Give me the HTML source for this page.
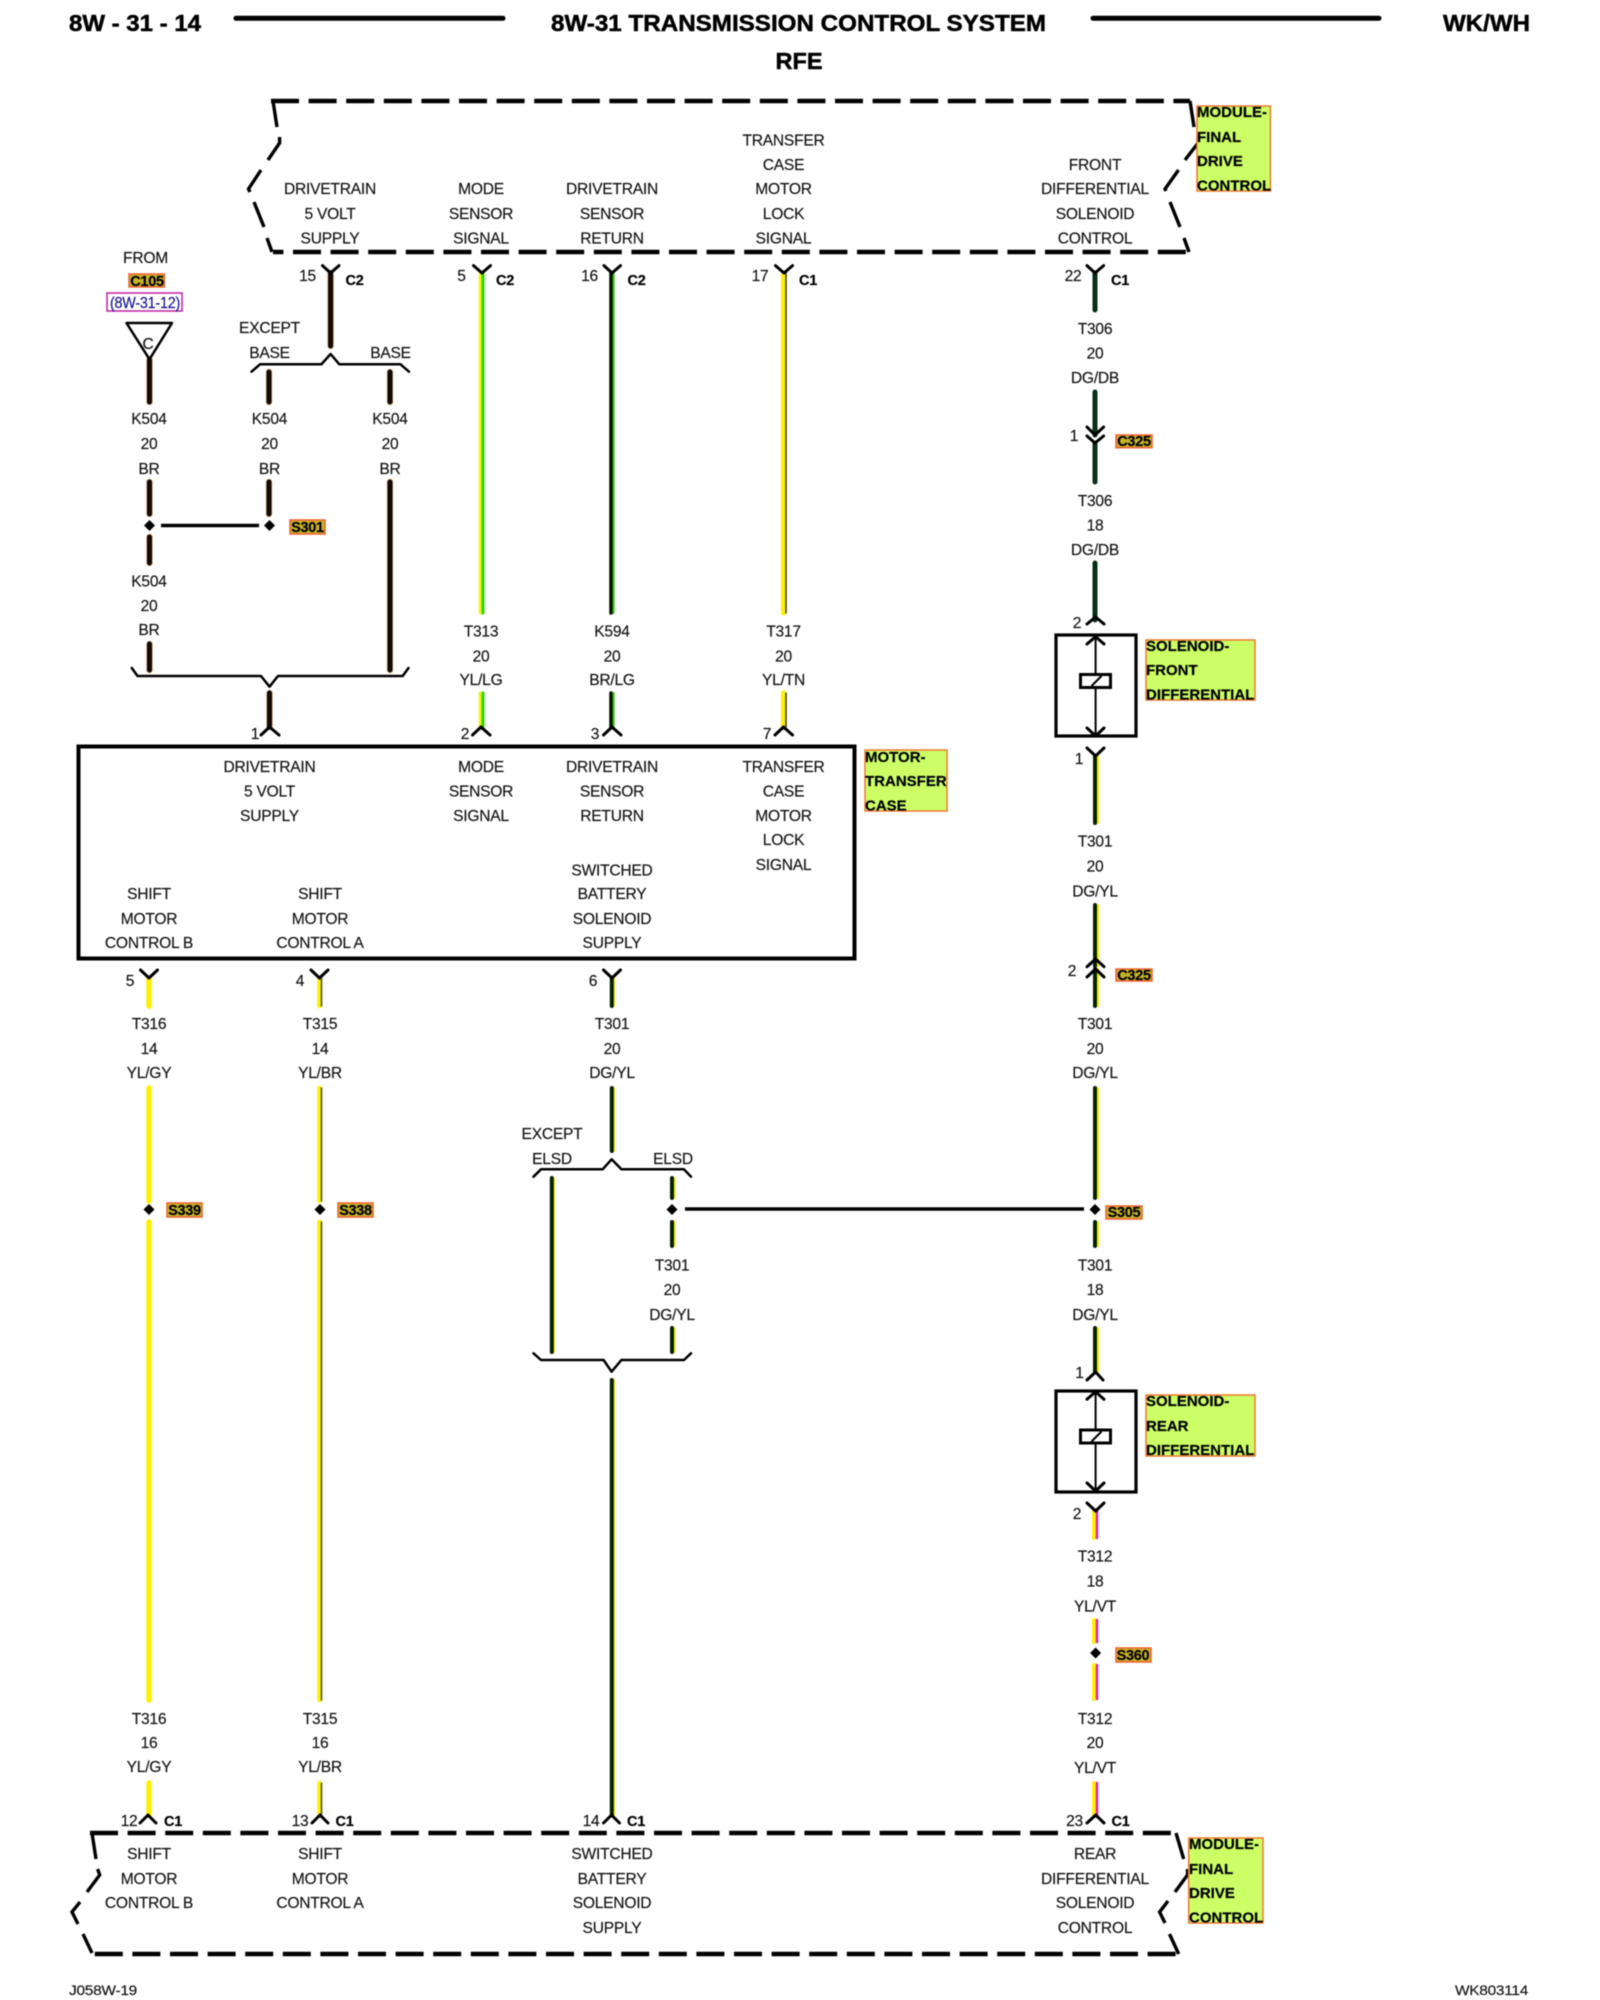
<!DOCTYPE html>
<html><head><meta charset="utf-8"><style>
html,body{margin:0;padding:0;background:#fff}
svg{display:block;filter:blur(.45px)}
text{font-family:"Liberation Sans",sans-serif;font-size:15.6px;fill:#111;text-anchor:middle;letter-spacing:-.25px;stroke:#111;stroke-width:.15px}
.b{font-weight:bold;font-size:23.5px;fill:#000;letter-spacing:0;stroke:#000;stroke-width:.5px}
.l{font-weight:bold;font-size:15px;text-anchor:start;fill:#000;letter-spacing:0;stroke:#000;stroke-width:.2px}
.t{font-weight:bold;font-size:14.5px;fill:#000;letter-spacing:-.3px;stroke:#000;stroke-width:.2px}
.g{fill:none;stroke:#000;stroke-width:3;stroke-linecap:round;stroke-linejoin:round}
.d{fill:none;stroke:#000;stroke-width:3.4;stroke-linejoin:miter}
.w{fill:none;stroke-linecap:round}
</style></head><body>
<svg xmlns="http://www.w3.org/2000/svg" width="1600" height="2000" viewBox="0 0 1600 2000">
<rect width="1600" height="2000" fill="#fff"/>

<!-- header -->
<path d="M236 18.3H503M1093 18.3H1379" stroke="#000" stroke-width="5" stroke-linecap="round"/>
<text class="b" x="69" y="31" style="text-anchor:start" textLength="132" lengthAdjust="spacingAndGlyphs">8W - 31 - 14</text>
<text class="b" x="798.5" y="31" textLength="495" lengthAdjust="spacingAndGlyphs">8W-31 TRANSMISSION CONTROL SYSTEM</text>
<text class="b" x="799" y="69">RFE</text>
<text class="b" x="1486.5" y="31" textLength="87" lengthAdjust="spacingAndGlyphs">WK/WH</text>

<!-- top module dashed outline -->
<path d="M271 101H1190" stroke="#000" stroke-width="4.5" stroke-dasharray="28 9.6" fill="none"/>
<path d="M273 252H1189" stroke="#000" stroke-width="4.5" stroke-dasharray="28 9.6" stroke-dashoffset="17.6" fill="none"/>
<path class="d" d="M273 101L277 127M279.6 137V143L268 160M261 170L248.5 189L250 192M254 202L264 227M267 238L272 252"/>
<path class="d" d="M1190 101L1194 127M1198 137V143L1185 160M1178.5 170L1165 189L1166 191M1170 202L1180 227M1184 238L1189 252"/>

<!-- bottom module dashed outline -->
<path d="M90 1833H1176" stroke="#000" stroke-width="4.5" stroke-dasharray="28 9.6" fill="none"/>
<path d="M92 1954H1179" stroke="#000" stroke-width="4.5" stroke-dasharray="28 9.6" stroke-dashoffset="34.8" fill="none"/>
<path class="d" d="M92 1833L96 1859M97.6 1869L99.7 1875L87 1892M80 1902L72 1912L78 1924M83 1934L92 1953"/>
<path class="d" d="M1176 1833L1183.7 1859M1187.5 1869V1875L1175 1892M1168 1901L1159.6 1912L1165 1923M1169.5 1934L1178.7 1954"/>

<!-- motor box -->
<rect x="78.5" y="746.5" width="776" height="212" fill="none" stroke="#000" stroke-width="4"/>

<!-- solenoid boxes -->
<g fill="none" stroke="#000">
<rect x="1056" y="635" width="80" height="101" stroke-width="3.2"/>
<rect x="1056" y="1391" width="80" height="101" stroke-width="3.2"/>
<path d="M1095.6 636V736M1095.6 1392V1492" stroke-width="2"/>
</g>
<rect x="1080.5" y="674.5" width="30" height="13" fill="#fff" stroke="#000" stroke-width="3"/>
<path d="M1091.5 686L1101.5 676" stroke="#000" stroke-width="2"/>
<rect x="1080.5" y="1430" width="30" height="13" fill="#fff" stroke="#000" stroke-width="3"/>
<path d="M1091.5 1441.5L1101.5 1431.5" stroke="#000" stroke-width="2"/>

<!-- wires: brown -->
<path class="w" stroke="#b06010" stroke-width="6.5" opacity=".5" d="M330.6 273V346M149.5 360V402M269 372V402M390 372V402M149.5 482V514M149.5 537V563M149.5 644V670M269 482V514M390 482V670M269.5 693V727"/>
<path class="w" stroke="#140a02" stroke-width="5" d="M330.6 273V346M149.5 360V402M269 372V402M390 372V402M149.5 482V514M149.5 537V563M149.5 644V670M269 482V514M390 482V670M269.5 693V727"/>

<!-- YL/LG -->
<path class="w" stroke="#f2f200" stroke-width="3" d="M480.3 273V613M480.3 693V727"/>
<path class="w" stroke="#28d800" stroke-width="3" d="M483 273V613M483 693V727"/>
<!-- BR/LG -->
<path class="w" stroke="#0a0f02" stroke-width="3.5" d="M611 273V613M611 693V727"/>
<path class="w" stroke="#20c000" stroke-width="2" d="M613.5 273V613M613.5 693V727"/>
<!-- YL/TN -->
<path class="w" stroke="#fff000" stroke-width="5" d="M783.5 273V613M783.5 693V727"/>
<path class="w" stroke="#3a3a00" stroke-width="1.5" d="M786 273V613M786 693V727"/>
<!-- YL/GY, YL/BR -->
<path class="w" stroke="#fff000" stroke-width="5.5" d="M149 978V1006M149 1088V1201M149 1222V1700M149 1783V1815"/>
<path class="w" stroke="#fff000" stroke-width="4.5" d="M319.5 978V1006M319.5 1088V1201M319.5 1222V1700M319.5 1783V1815"/>
<path class="w" stroke="#4a4a00" stroke-width="1.5" d="M321.5 978V1006M321.5 1088V1201M321.5 1222V1700M321.5 1783V1815"/>
<!-- DG/DB -->
<path class="w" stroke="#07301a" stroke-width="5" d="M1095 273V310M1095 392V435M1095 443V482M1095 563V620"/>
<!-- DG/YL -->
<path class="w" stroke="#f2f200" stroke-width="2" d="M614 978V1006M614 1088V1151M614 1380V1815M554 1178V1352M674.5 1178V1198M674.5 1222V1246M674.5 1328V1352M1098 756V823M1098 905V966M1098 969V1006M1098 1088V1198M1098 1222V1246M1098 1328V1372"/>
<path class="w" stroke="#062206" stroke-width="4" d="M611.8 978V1006M611.8 1088V1151M611.8 1380V1815M551.8 1178V1352M672 1178V1198M672 1222V1246M672 1328V1352M1095 756V823M1095 905V966M1095 969V1006M1095 1088V1198M1095 1222V1246M1095 1328V1372"/>
<!-- YL/VT -->
<path class="w" stroke="#fff000" stroke-width="4" d="M1094 1511V1538M1094 1620V1642M1094 1665V1699M1094 1783V1815"/>
<path class="w" stroke="#e020b0" stroke-width="2.5" d="M1097 1511V1538M1097 1620V1642M1097 1665V1699M1097 1783V1815"/>

<!-- horizontal splice runs -->
<path d="M161 525.5H259M685 1209H1084" stroke="#000" stroke-width="3.5"/>

<!-- connectors -->
<path class="g" d="M322.5 265.6L330.6 273L339 265.6M473.5 265.6L482 273L490.5 265.6M604 265.6L612 273L620.5 265.6M775.5 265.6L784 273L792.5 265.6M1087 265.6L1095 273L1103.6 265.6"/>
<path class="g" d="M1087 427L1095 435L1103.6 427M1087 436L1095 443L1103.6 436M1087 624L1095.6 617L1104 624M1087 644L1095.6 636.7L1104 644M1087 728L1095.6 736L1104 728M1087 748L1095.6 756L1104 748M1087 966.7L1095.6 959L1104 966.7M1087 977L1095.6 969L1104 977M1087 1380L1095.6 1372L1103 1380M1087 1399.3L1095.6 1391.7L1104 1399.3M1087 1483L1095.6 1491L1104 1483M1087 1503L1095.6 1511L1104 1503"/>
<path class="g" d="M261 735L269.5 727L279 735M472.5 735L481 727L490 735M603.5 735L612 727L621 735M775 735L783.5 727L792.5 735"/>
<path class="g" d="M140.5 970L149 978L157.5 970M311 970L319.5 978L328 970M603.5 970L612 978L620.5 970"/>
<path class="g" d="M140 1823L148 1815L156 1823M312 1823L320 1815L328 1823M603.5 1823L611.5 1815L619.5 1823M1087 1823L1095.7 1815L1104 1823"/>

<!-- braces -->
<path class="g" style="stroke-width:2.5" d="M251.5 371.7L260 364.3H321.4L330.6 354L339.3 364.3H400.5L409 371.7"/>
<path class="g" style="stroke-width:2.5" d="M131.8 668L137.5 676H261L269.5 686.7L278 676H402.7L408.5 668"/>
<path class="g" style="stroke-width:2.5" d="M533.5 1176.7L541 1169.3H602.7L611.6 1159.3L621.4 1169.3H684L691 1176.7"/>
<path class="g" style="stroke-width:2.5" d="M533.5 1353.3L541 1360H603.6L611.6 1371.7L621.4 1360H684L691 1353.3"/>

<!-- triangle -->
<path d="M126.5 323H172L149.5 359.3Z" fill="#fff" stroke="#000" stroke-width="2.5" stroke-linejoin="round"/>
<text x="148" y="349">C</text>

<!-- splice diamonds -->
<g fill="#000">
<path d="M149.5 520l5.5 5.5-5.5 5.5-5.5-5.5z"/>
<path d="M269.5 520l5.5 5.5-5.5 5.5-5.5-5.5z"/>
<path d="M149 1204l5.5 5.5-5.5 5.5-5.5-5.5z"/>
<path d="M320 1204l5.5 5.5-5.5 5.5-5.5-5.5z"/>
<path d="M672 1204l5.5 5.5-5.5 5.5-5.5-5.5z"/>
<path d="M1095 1204l5.5 5.5-5.5 5.5-5.5-5.5z"/>
<path d="M1095.6 1647.5l5.5 5.5-5.5 5.5-5.5-5.5z"/>
</g>

<!-- highlighted label boxes -->
<g fill="#ccff66" stroke="#f07830" stroke-width="1.5">
<rect x="1197" y="106" width="73.4" height="85"/>
<rect x="865" y="750" width="82" height="61"/>
<rect x="1146" y="640" width="109" height="60"/>
<rect x="1146" y="1395" width="109" height="61"/>
<rect x="1188.7" y="1838" width="74.3" height="85"/>
</g>
<g fill="#c8b428" stroke="#f06030" stroke-width="1.5">
<rect x="129" y="274" width="35.3" height="13"/>
<rect x="290" y="520" width="35" height="14"/>
<rect x="167" y="1203" width="35" height="14"/>
<rect x="338" y="1203" width="35" height="14"/>
<rect x="1106" y="1206" width="36" height="13"/>
<rect x="1116" y="435" width="36" height="12.7"/>
<rect x="1116" y="969" width="36" height="12"/>
<rect x="1116" y="1648" width="35" height="14"/>
</g>
<rect x="107" y="293" width="75" height="18" fill="#fff" stroke="#c020a0" stroke-width="1.5"/>

<text class="l" x="1197" y="117">MODULE-</text><text class="l" x="1197" y="142">FINAL</text><text class="l" x="1197" y="166">DRIVE</text><text class="l" x="1197" y="190.5">CONTROL</text>
<text class="l" x="865" y="762">MOTOR-</text><text class="l" x="865" y="786">TRANSFER</text><text class="l" x="865" y="810.5">CASE</text>
<text class="l" x="1146" y="651">SOLENOID-</text><text class="l" x="1146" y="675">FRONT</text><text class="l" x="1146" y="699.5">DIFFERENTIAL</text>
<text class="l" x="1146" y="1406">SOLENOID-</text><text class="l" x="1146" y="1431">REAR</text><text class="l" x="1146" y="1455">DIFFERENTIAL</text>
<text class="l" x="1189" y="1849">MODULE-</text><text class="l" x="1189" y="1874">FINAL</text><text class="l" x="1189" y="1898">DRIVE</text><text class="l" x="1189" y="1922.5">CONTROL</text>

<text class="t" x="147" y="286">C105</text>
<text class="t" x="307.5" y="532">S301</text>
<text class="t" x="184.5" y="1215">S339</text>
<text class="t" x="355.5" y="1215">S338</text>
<text class="t" x="1124" y="1217">S305</text>
<text class="t" x="1134" y="446">C325</text>
<text class="t" x="1134" y="980">C325</text>
<text class="t" x="1133" y="1660">S360</text>
<text x="145" y="308" style="fill:#101090;stroke:#101090" textLength="70" lengthAdjust="spacingAndGlyphs">(8W-31-12)</text>

<!-- top module labels -->
<text x="330" y="194">DRIVETRAIN</text><text x="330" y="219">5 VOLT</text><text x="330" y="243.5">SUPPLY</text>
<text x="481" y="194">MODE</text><text x="481" y="219">SENSOR</text><text x="481" y="243.5">SIGNAL</text>
<text x="612" y="194">DRIVETRAIN</text><text x="612" y="219">SENSOR</text><text x="612" y="243.5">RETURN</text>
<text x="783.5" y="145.5">TRANSFER</text><text x="783.5" y="170">CASE</text><text x="783.5" y="194">MOTOR</text><text x="783.5" y="219">LOCK</text><text x="783.5" y="243.5">SIGNAL</text>
<text x="1095" y="170">FRONT</text><text x="1095" y="194">DIFFERENTIAL</text><text x="1095" y="219">SOLENOID</text><text x="1095" y="243.5">CONTROL</text>

<!-- pin numbers top -->
<text x="307.5" y="281">15</text><text class="t" x="354.5" y="285">C2</text>
<text x="461.5" y="281">5</text><text class="t" x="505" y="285">C2</text>
<text x="589.5" y="281">16</text><text class="t" x="636.5" y="285">C2</text>
<text x="760" y="281">17</text><text class="t" x="808" y="285">C1</text>
<text x="1073" y="281">22</text><text class="t" x="1120" y="285">C1</text>

<!-- left side -->
<text x="145.5" y="263">FROM</text>
<text x="269.5" y="333">EXCEPT</text>
<text x="269.5" y="358">BASE</text><text x="390.5" y="358">BASE</text>
<text x="149" y="424">K504</text><text x="149" y="449">20</text><text x="149" y="474">BR</text>
<text x="269.5" y="424">K504</text><text x="269.5" y="449">20</text><text x="269.5" y="474">BR</text>
<text x="390" y="424">K504</text><text x="390" y="449">20</text><text x="390" y="474">BR</text>
<text x="149" y="586.5">K504</text><text x="149" y="611">20</text><text x="149" y="635">BR</text>

<text x="481" y="636.5">T313</text><text x="481" y="661.5">20</text><text x="481" y="685">YL/LG</text>
<text x="612" y="636.5">K594</text><text x="612" y="661.5">20</text><text x="612" y="685">BR/LG</text>
<text x="783.5" y="636.5">T317</text><text x="783.5" y="661.5">20</text><text x="783.5" y="685">YL/TN</text>

<text x="255" y="739">1</text><text x="465" y="739">2</text><text x="595" y="739">3</text><text x="767" y="739">7</text>

<!-- motor box labels -->
<text x="269.5" y="772">DRIVETRAIN</text><text x="269.5" y="796.5">5 VOLT</text><text x="269.5" y="821">SUPPLY</text>
<text x="481" y="772">MODE</text><text x="481" y="796.5">SENSOR</text><text x="481" y="821">SIGNAL</text>
<text x="612" y="772">DRIVETRAIN</text><text x="612" y="796.5">SENSOR</text><text x="612" y="821">RETURN</text>
<text x="783.5" y="772">TRANSFER</text><text x="783.5" y="796.5">CASE</text><text x="783.5" y="821">MOTOR</text><text x="783.5" y="845">LOCK</text><text x="783.5" y="870">SIGNAL</text>
<text x="612" y="875.5">SWITCHED</text><text x="612" y="899">BATTERY</text><text x="612" y="924">SOLENOID</text><text x="612" y="948">SUPPLY</text>
<text x="149" y="899">SHIFT</text><text x="149" y="924">MOTOR</text><text x="149" y="948">CONTROL B</text>
<text x="320" y="899">SHIFT</text><text x="320" y="924">MOTOR</text><text x="320" y="948">CONTROL A</text>

<text x="130" y="986">5</text><text x="300" y="986">4</text><text x="593" y="986">6</text>

<text x="149" y="1029">T316</text><text x="149" y="1054">14</text><text x="149" y="1078">YL/GY</text>
<text x="320" y="1029">T315</text><text x="320" y="1054">14</text><text x="320" y="1078">YL/BR</text>
<text x="612" y="1029">T301</text><text x="612" y="1054">20</text><text x="612" y="1078">DG/YL</text>
<text x="1095" y="1029">T301</text><text x="1095" y="1054">20</text><text x="1095" y="1078">DG/YL</text>

<text x="552" y="1139">EXCEPT</text>
<text x="552" y="1164">ELSD</text><text x="673" y="1164">ELSD</text>

<text x="672" y="1270.5">T301</text><text x="672" y="1295">20</text><text x="672" y="1320">DG/YL</text>
<text x="1095" y="1270.5">T301</text><text x="1095" y="1295">18</text><text x="1095" y="1320">DG/YL</text>

<text x="149" y="1724">T316</text><text x="149" y="1748">16</text><text x="149" y="1772">YL/GY</text>
<text x="320" y="1724">T315</text><text x="320" y="1748">16</text><text x="320" y="1772">YL/BR</text>

<!-- right column -->
<text x="1095" y="334">T306</text><text x="1095" y="358.5">20</text><text x="1095" y="383">DG/DB</text>
<text x="1074" y="441">1</text>
<text x="1095" y="506">T306</text><text x="1095" y="530.5">18</text><text x="1095" y="555">DG/DB</text>
<text x="1077" y="628">2</text>
<text x="1079" y="764">1</text>
<text x="1095" y="846.5">T301</text><text x="1095" y="871.5">20</text><text x="1095" y="896.5">DG/YL</text>
<text x="1072" y="976">2</text>
<text x="1079.5" y="1378">1</text>
<text x="1077" y="1519">2</text>
<text x="1095" y="1561.5">T312</text><text x="1095" y="1586.5">18</text><text x="1095" y="1611.5">YL/VT</text>
<text x="1095" y="1724">T312</text><text x="1095" y="1748">20</text><text x="1095" y="1773">YL/VT</text>

<!-- bottom pin numbers -->
<text x="129" y="1826">12</text><text class="t" x="173" y="1826">C1</text>
<text x="300" y="1826">13</text><text class="t" x="344.5" y="1826">C1</text>
<text x="591" y="1826">14</text><text class="t" x="636" y="1826">C1</text>
<text x="1074.5" y="1826">23</text><text class="t" x="1120.5" y="1826">C1</text>

<!-- bottom module labels -->
<text x="149" y="1859">SHIFT</text><text x="149" y="1884">MOTOR</text><text x="149" y="1908">CONTROL B</text>
<text x="320" y="1859">SHIFT</text><text x="320" y="1884">MOTOR</text><text x="320" y="1908">CONTROL A</text>
<text x="612" y="1859">SWITCHED</text><text x="612" y="1884">BATTERY</text><text x="612" y="1908">SOLENOID</text><text x="612" y="1933">SUPPLY</text>
<text x="1095" y="1859">REAR</text><text x="1095" y="1884">DIFFERENTIAL</text><text x="1095" y="1908">SOLENOID</text><text x="1095" y="1933">CONTROL</text>

<!-- footer -->
<text x="69" y="1995" style="text-anchor:start;font-size:14px" textLength="68" lengthAdjust="spacingAndGlyphs">J058W-19</text>
<text x="1455" y="1995" style="text-anchor:start;font-size:14px" textLength="73" lengthAdjust="spacingAndGlyphs">WK803114</text>
</svg>
</body></html>
